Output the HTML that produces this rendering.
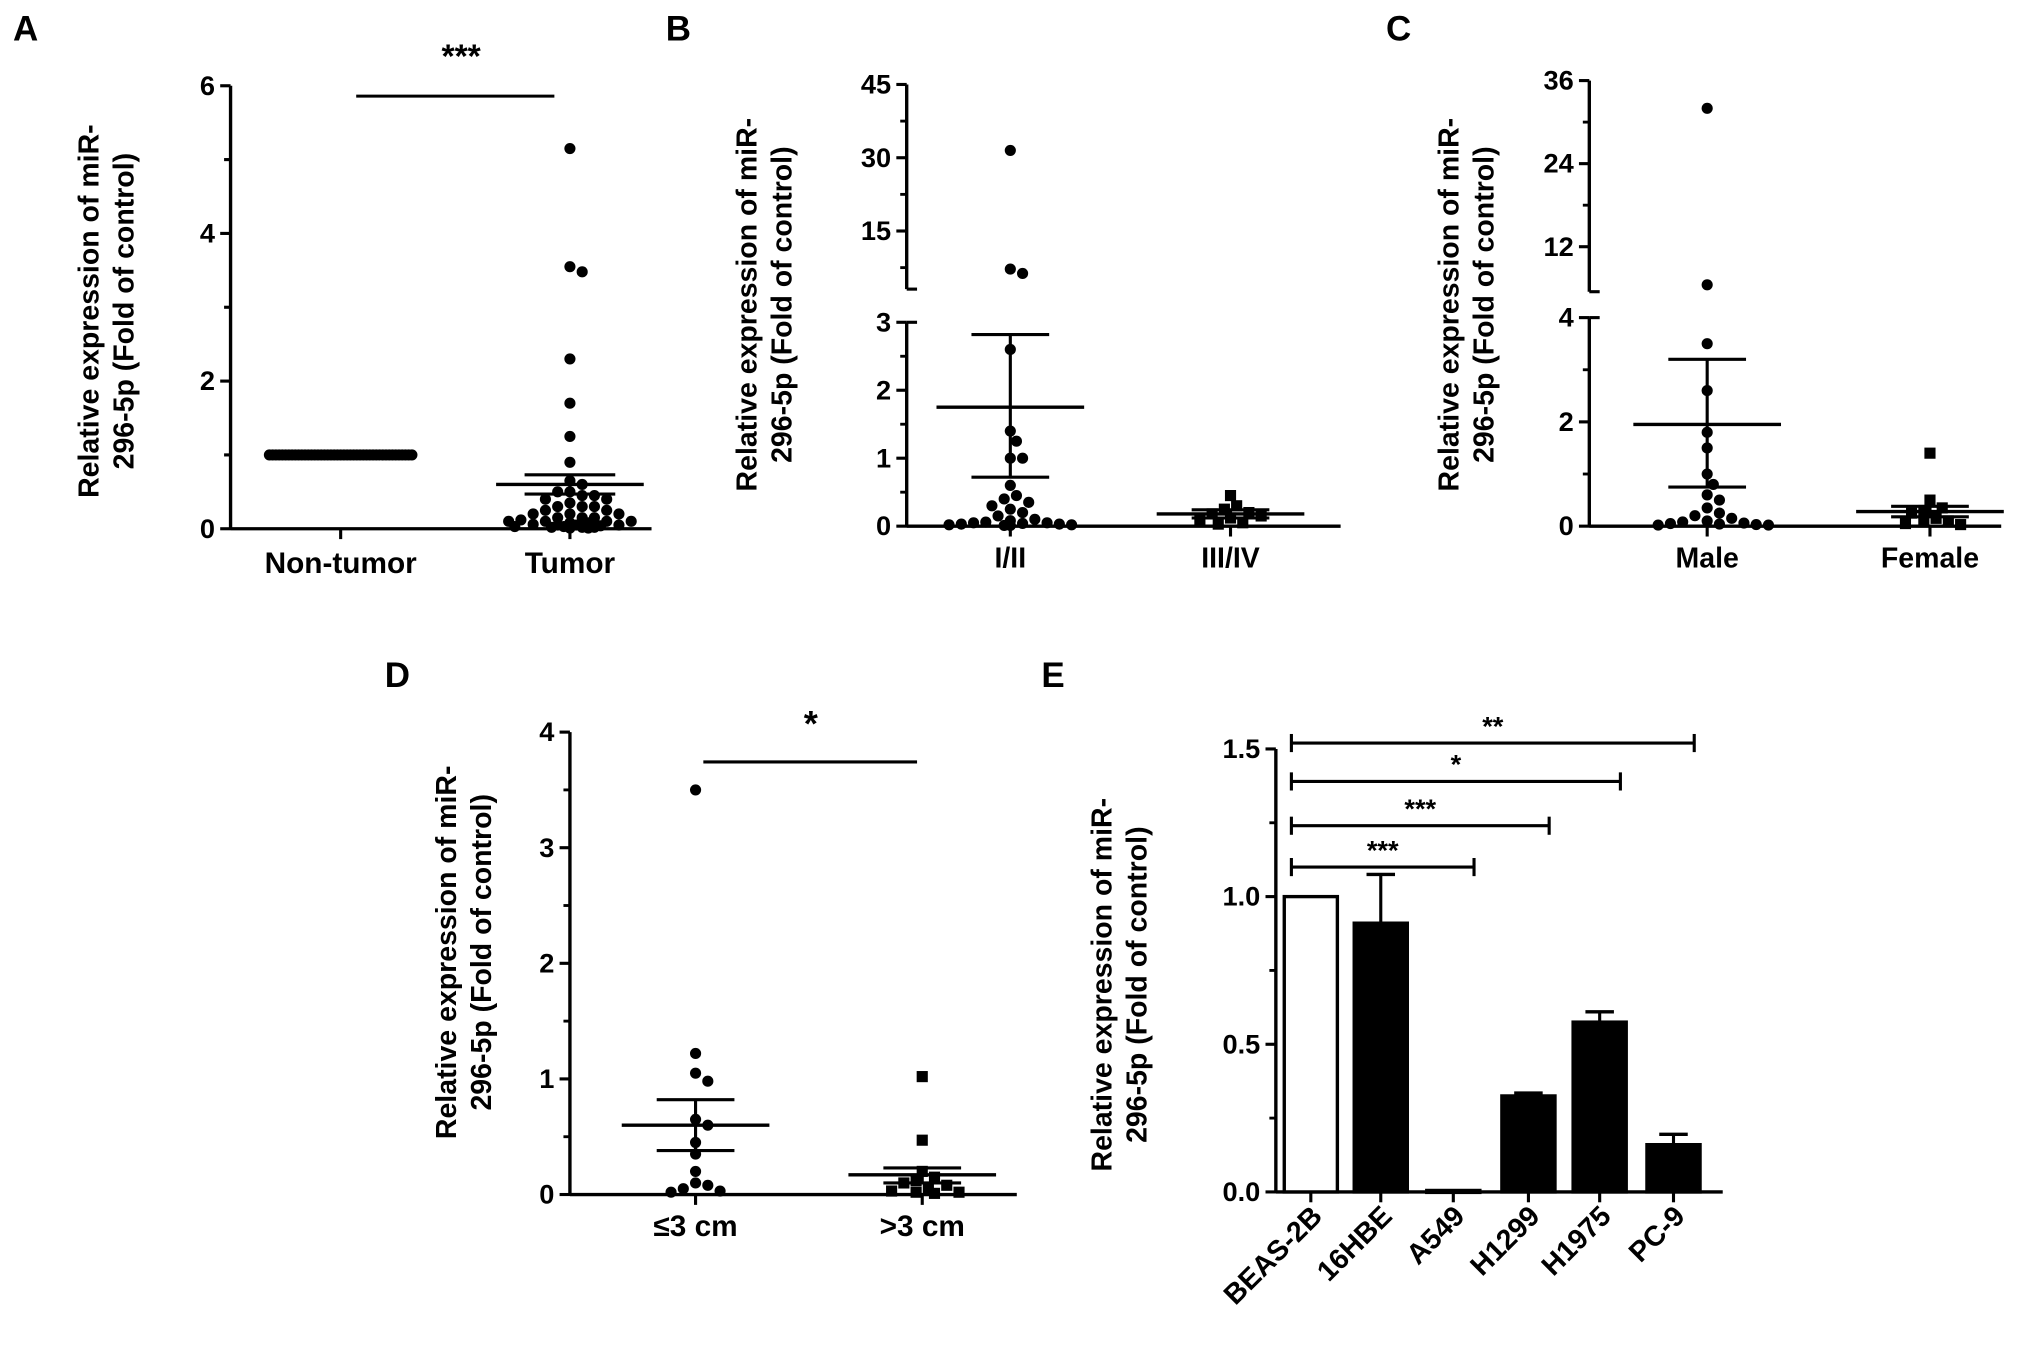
<!DOCTYPE html>
<html><head><meta charset="utf-8"><style>
html,body{margin:0;padding:0;background:#fff;}
svg{display:block;font-family:"Liberation Sans",Arial,sans-serif;font-weight:bold;}
</style></head><body>
<svg id="fig" width="2031" height="1358" viewBox="0 0 1568 1048" xmlns="http://www.w3.org/2000/svg"></svg>
<script>
// ---- Data ----
const catsA = ["Non-tumor","Tumor"];
const nonTumorVals = [1,1,1,1,1,1,1,1,1,1,1,1,1,1,1,1,1,1,1,1,1,1,1,1,1,1,1,1,1,1,1,1,1,1,1,1,1,1,1,1,1,1,1,1,1];
const tumorVals = [5.15,3.55,3.48,2.3,1.7,1.25,0.9,0.65,0.6,0.5,0.5,0.45,0.45,0.4,0.4,0.35,0.3,0.3,0.3,0.25,0.25,0.2,0.2,0.2,0.15,0.15,0.15,0.12,0.1,0.1,0.1,0.1,0.08,0.08,0.06,0.05,0.05,0.05,0.04,0.03,0.03,0.02,0.02,0.02,0.01,0.01];
const tumorStats = [0.6,0.47,0.73]; // mean, low, high
const ticksA = [0,2,4,6];

const catsB = ["I/II","III/IV"];
const stage12Vals = [31.5,7.2,6.3,2.6,1.4,1.25,1.0,1.0,0.6,0.45,0.4,0.35,0.3,0.25,0.2,0.15,0.1,0.08,0.06,0.05,0.05,0.04,0.03,0.03,0.02,0.02,0.01,0.01];
const stage12Stats = [1.75,0.72,2.82];
const stage34Vals = [0.45,0.3,0.25,0.2,0.18,0.15,0.12,0.1,0.05,0.03];
const stage34Stats = [0.18,0.12,0.24];
const ticksBLow = [0,1,2,3];
const ticksBHigh = [15,30,45];

const catsC = ["Male","Female"];
const maleVals = [32,6.5,3.5,2.6,1.8,1.5,1.0,0.8,0.6,0.5,0.35,0.25,0.2,0.15,0.1,0.08,0.06,0.05,0.04,0.03,0.02,0.02];
const maleStats = [1.95,0.75,3.2];
const femaleVals = [1.4,0.5,0.35,0.3,0.25,0.15,0.1,0.08,0.05,0.03];
const femaleStats = [0.28,0.18,0.38];
const ticksCLow = [0,2,4];
const ticksCHigh = [12,24,36];

const catsD = ["\u22643 cm",">3 cm"];
const smallVals = [3.5,1.22,1.05,0.98,0.65,0.6,0.45,0.35,0.2,0.1,0.08,0.05,0.03,0.02];
const smallStats = [0.6,0.38,0.82];
const largeVals = [1.02,0.47,0.2,0.15,0.12,0.1,0.08,0.05,0.03,0.02,0.02,0.01];
const largeStats = [0.17,0.1,0.23];
const ticksD = [0,1,2,3,4];

const catsE = ["BEAS-2B","16HBE","A549","H1299","H1975","PC-9"];
const barVals = [1.0,0.91,0.005,0.325,0.575,0.16];
const barErr = [0,0.165,0,0.01,0.035,0.035];
const ticksE = [0,0.5,1.0,1.5];
const ticksELabels = ["0.0","0.5","1.0","1.5"];
const sigTargets = [2,3,4,5];
const sigLevels = [1.1,1.24,1.39,1.52];
const sigLabels = ["***","***","*","**"];

// ---- helpers ----
const NS="http://www.w3.org/2000/svg";
const svg=document.getElementById('fig');
function mk(tag,attrs,parent){const e=document.createElementNS(NS,tag);for(const k in attrs)e.setAttribute(k,attrs[k]);(parent||svg).appendChild(e);return e;}
function line(x1,y1,x2,y2,w,p){return mk('line',{x1,y1,x2,y2,stroke:'#000','stroke-width':w||2.6},p);}
function text(x,y,s,size,anchor,p,extra){const t=mk('text',{x,y,'font-size':size,'text-anchor':anchor||'middle'},p);t.textContent=s;if(extra)for(const k in extra)t.setAttribute(k,extra[k]);return t;}
function group(name){const g=mk('g',{});return g;}

function swarm(vals,cx,ys,r,g,shape,name,maxHalf){
  const placed=[];
  maxHalf=maxHalf||60;
  vals.forEach(v=>{
    const y=ys(v);let x=cx,found=false;
    for(const dmin of [r*1.9,r*1.3,r*0.8]){
      for(let i=0;i<80;i++){
        const off=(i===0?0:Math.ceil(i/2)*(i%2?1:-1))*r*1.1;
        if(Math.abs(off)>maxHalf)break;
        x=cx+off;
        if(!placed.some(p=>Math.hypot(p[0]-x,p[1]-y)<dmin)){found=true;break;}
      }
      if(found)break;
    }
    placed.push([x,y]);
    let m;
    if(shape==='sq')m=mk('rect',{x:x-r,y:y-r,width:2*r,height:2*r,fill:'#000'},g);
    else m=mk('circle',{cx:x,cy:y,r:r,fill:'#000'},g);
    
    
  });
}
function meanSem(st,cx,ys,hw,cw,g){
  line(cx-hw,ys(st[0]),cx+hw,ys(st[0]),2.6,g);
  line(cx,ys(st[1]),cx,ys(st[2]),2.4,g);
  line(cx-cw,ys(st[1]),cx+cw,ys(st[1]),2.4,g);
  line(cx-cw,ys(st[2]),cx+cw,ys(st[2]),2.4,g);
}
function ytitle(x,cy,g){
  const t=text(0,0,'',22,'middle',g,{transform:`translate(${x},${cy}) rotate(-90)`});
  const a=mk('tspan',{x:0,dy:0},t);a.textContent='Relative expression of miR-';
  const b=mk('tspan',{x:0,dy:27},t);b.textContent='296-5p (Fold of control)';
  
}
function letter(x,y,s){const t=text(x,y,s,27,'start');}

// ---- Panel A ----
(function(){
  const g=group('panel-a');
  const ax=178,y0=408,y6=66;const ys=v=>y0-(y0-y6)*v/6;
  const xs=[263,440];
  letter(10,31,'A');
  ytitle(76,240,g);
  line(ax,y6,ax,y0+1,2.6,g);line(ax,y0,503,y0,2.6,g);
  for(let v=0;v<=6;v++){line(ax-(v%2?5:8),ys(v),ax,ys(v),2.4,g);}
  ticksA.forEach(v=>{const t=text(ax-12,ys(v)+7,String(v),21,'end',g);});
  xs.forEach((x,i)=>{line(x,y0,x,y0+8,2.4,g);const t=text(x,y0+34,catsA[i],23,'middle',g);});
  nonTumorVals.forEach((v,i)=>{const c=mk('circle',{cx:xs[0]-55+i*110/(nonTumorVals.length-1),cy:ys(v),r:4.3,fill:'#000'},g);
    
    });
  swarm(tumorVals,xs[1],ys,4.3,g,'c','tumor-point',52);
  meanSem(tumorStats,xs[1],ys,57,35,g);
  line(275,74,428,74,2.4,g);
  const s=text(356,52,'***',26,'middle',g);
})();

// ---- broken-axis scatter panel ----
function brokenPanel(o){
  const g=group(o.name);
  const ax=o.ax;
  const ys=v=> v>=o.brk ? o.hiTopY+(o.hiMax-v)*(o.hiBotY-o.hiTopY)/(o.hiMax-o.brk) : o.y0-(o.y0-o.loTopY)*v/o.loMax;
  letter(o.lx,31,o.letter);
  ytitle(o.tx,235,g);
  line(ax,o.hiTopY,ax,o.hiBotY,2.6,g);line(ax,o.hiBotY,ax+8,o.hiBotY,2.4,g);
  line(ax,o.loTopY,ax,o.y0+1,2.6,g);line(ax,o.loTopY,ax+8,o.loTopY,2.4,g);
  line(ax,o.y0,o.xend,o.y0,2.6,g);
  o.loMinor.forEach(v=>line(ax-5,ys(v),ax,ys(v),2.2,g));
  o.hiMinor.forEach(v=>line(ax-5,ys(v),ax,ys(v),2.2,g));
  o.loTicks.forEach(v=>{line(ax-8,ys(v),ax,ys(v),2.4,g);const t=text(ax-12,ys(v)+7,String(v),21,'end',g);});
  o.hiTicks.forEach(v=>{line(ax-8,ys(v),ax,ys(v),2.4,g);const t=text(ax-12,ys(v)+7,String(v),21,'end',g);});
  o.xs.forEach((x,i)=>{line(x,o.y0,x,o.y0+8,2.4,g);const t=text(x,o.y0+32,o.cats[i],22,'middle',g);});
  swarm(o.v1,o.xs[0],ys,4.3,g,'c',o.n1,50);
  swarm(o.v2,o.xs[1],ys,4.3,g,'sq',o.n2,30);
  meanSem(o.s1,o.xs[0],ys,57,30,g);
  meanSem(o.s2,o.xs[1],ys,57,30,g);
}
brokenPanel({name:'panel-b',letter:'B',lx:514,tx:584,ax:700,y0:406,loTopY:248.6,loMax:3,hiTopY:65,hiBotY:223,hiMax:45,brk:3.1,
  xend:1035,xs:[780,950],cats:catsB,loTicks:ticksBLow,hiTicks:ticksBHigh,loMinor:[0.5,1.5,2.5],hiMinor:[7.5,22.5,37.5],
  v1:stage12Vals,v2:stage34Vals,s1:stage12Stats,s2:stage34Stats,n1:'stage-i-ii-point',n2:'stage-iii-iv-point'});
brokenPanel({name:'panel-c',letter:'C',lx:1070,tx:1126,ax:1227,y0:406,loTopY:245,loMax:4,hiTopY:62,hiBotY:225,hiMax:36,brk:5.5,
  xend:1545,xs:[1318,1490],cats:catsC,loTicks:ticksCLow,hiTicks:ticksCHigh,loMinor:[1,3],hiMinor:[18,30],
  v1:maleVals,v2:femaleVals,s1:maleStats,s2:femaleStats,n1:'male-point',n2:'female-point'});

// ---- Panel D ----
(function(){
  const g=group('panel-d');
  const ax=440,y0=922,yt=565;const ys=v=>y0-(y0-yt)*v/4;
  const xs=[537,712];
  letter(297,530,'D');
  ytitle(352,735,g);
  line(ax,yt,ax,y0+1,2.6,g);line(ax,y0,785,y0,2.6,g);
  [0.5,1.5,2.5,3.5].forEach(v=>line(ax-5,ys(v),ax,ys(v),2.2,g));
  ticksD.forEach(v=>{line(ax-8,ys(v),ax,ys(v),2.4,g);const t=text(ax-12,ys(v)+7,String(v),21,'end',g);});
  xs.forEach((x,i)=>{line(x,y0,x,y0+8,2.4,g);const t=text(x,y0+32,catsD[i],23,'middle',g);});
  swarm(smallVals,xs[0],ys,4.3,g,'c','small-tumor-point',30);
  swarm(largeVals,xs[1],ys,4.3,g,'sq','large-tumor-point',30);
  meanSem(smallStats,xs[0],ys,57,30,g);
  meanSem(largeStats,xs[1],ys,57,30,g);
  line(543,588,708,588,2.4,g);
  const s=text(626,568,'*',28,'middle',g);
})();

// ---- Panel E ----
(function(){
  const g=group('panel-e');
  const ax=985,y0=920,yt=578;const ys=v=>y0-(y0-yt)*v/1.5;
  const xs=[1012,1066,1122,1180,1235,1292];const bw=41;
  letter(804,530,'E');
  ytitle(858,760,g);
  line(ax,yt,ax,y0+1,2.6,g);line(ax,y0,1330,y0,2.6,g);
  [0.25,0.75,1.25].forEach(v=>line(ax-5,ys(v),ax,ys(v),2.2,g));
  ticksE.forEach((v,i)=>{line(ax-8,ys(v),ax,ys(v),2.4,g);const t=text(ax-12,ys(v)+7,ticksELabels[i],21,'end',g);});
  catsE.forEach((c,i)=>{
    const x=xs[i];
    if(barErr[i]>0){line(x,ys(barVals[i]),x,ys(barVals[i]+barErr[i]),2.4,g);line(x-11,ys(barVals[i]+barErr[i]),x+11,ys(barVals[i]+barErr[i]),2.6,g);}
    const r=mk('rect',{x:x-bw/2,y:ys(barVals[i]),width:bw,height:Math.max(1.5,y0-ys(barVals[i])),fill:i===0?'#fff':'#000',stroke:'#000','stroke-width':2.6},g);
    
    
    line(x,y0,x,y0+8,2.4,g);
    const t=text(0,0,c,22,'end',g,{transform:`translate(${x+10},${y0+20}) rotate(-45)`});
    
    
  });
  const x0=997;
  sigTargets.forEach((ti,k)=>{
    const y=ys(sigLevels[k]);const x1=xs[ti]+16;
    line(x0,y,x1,y,2.4,g);line(x0,y-7,x0,y+7,2.4,g);line(x1,y-7,x1,y+7,2.4,g);
    const t=text((x0+x1)/2,y-6,sigLabels[k],21,'middle',g);
    
    
  });
})();
</script>
</body></html>
